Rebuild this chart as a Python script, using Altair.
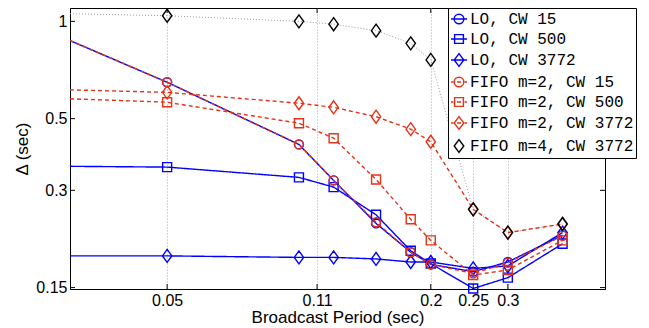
import altair as alt
import pandas as pd

# ---- data ----
X = [0.03, 0.05, 0.1, 0.12, 0.15, 0.18, 0.2, 0.25, 0.3, 0.4]
SERIES = ["LO, CW 15", "LO, CW 500", "LO, CW 3772",
          "FIFO m=2, CW 15", "FIFO m=2, CW 500", "FIFO m=2, CW 3772",
          "FIFO m=4, CW 3772"]
LO_CW15 = [0.872, 0.648, 0.416, 0.322, 0.237, 0.193, 0.177, 0.168, 0.180, 0.218]
LO_CW500 = [0.356, 0.354, 0.329, 0.307, 0.252, 0.195, 0.178, 0.149, 0.161, 0.205]
LO_CW3772 = [0.188, 0.188, 0.186, 0.186, 0.184, 0.180, 0.180, 0.172, 0.175, 0.222]
FIFO2_CW15 = [0.872, 0.648, 0.416, 0.322, 0.239, 0.193, 0.177, 0.166, 0.179, 0.217]
FIFO2_CW500 = [0.576, 0.562, 0.484, 0.435, 0.324, 0.244, 0.210, 0.164, 0.170, 0.210]
FIFO2_CW3772 = [0.614, 0.603, 0.558, 0.542, 0.507, 0.464, 0.424, 0.262, 0.222, 0.236]
FIFO4_CW3772 = [1.056, 1.041, 1.000, 0.980, 0.936, 0.855, 0.760, 0.262, 0.222, 0.236]
VALUES = [LO_CW15, LO_CW500, LO_CW3772, FIFO2_CW15, FIFO2_CW500, FIFO2_CW3772, FIFO4_CW3772]
MARKER_MIN_X = 0.05

XTICKS = [0.05, 0.11, 0.2, 0.25, 0.3]
YTICKS = [0.15, 0.3, 0.5, 1]

rows = []
for name, vals in zip(SERIES, VALUES):
    for xv, yv in zip(X, vals):
        rows.append({"x": xv, "y": yv, "series": name})
df = pd.DataFrame(rows)

# ---- styles ----
BLUE = "#0000ff"
RED = "#e5331a"
BLACK = "#000000"
W, H = 535, 281

DIAMOND = "M0,-1L0.72,0L0,1L-0.72,0Z"
STYLE = {
    "LO, CW 15": dict(color=BLUE, dash=[1, 0], shape="circle", size=80),
    "LO, CW 500": dict(color=BLUE, dash=[1, 0], shape="square", size=81),
    "LO, CW 3772": dict(color=BLUE, dash=[1, 0], shape=DIAMOND, size=169),
    "FIFO m=2, CW 15": dict(color=RED, dash=[4, 3], shape="circle", size=80),
    "FIFO m=2, CW 500": dict(color=RED, dash=[4, 3], shape="square", size=81),
    "FIFO m=2, CW 3772": dict(color=RED, dash=[4, 3], shape=DIAMOND, size=169),
    "FIFO m=4, CW 3772": dict(color=BLACK, dash=[1, 2], shape=DIAMOND, size=169),
}

CIRC = "M0.6,0A0.6,0.6,0,1,1,-0.6,0A0.6,0.6,0,1,1,0.6,0Z"
SQR = "M-0.55,-0.55H0.55V0.55H-0.55Z"
DIA = "M0,-0.8L0.6,0L0,0.8L-0.6,0Z"
SOLID = "M-1,0H1"
DASHED = "M-1,0H-0.7M-0.25,0H0.25M0.7,0H1"
LEG_PATHS = [SOLID + CIRC, SOLID + SQR, SOLID + DIA,
             DASHED + CIRC, DASHED + SQR, DASHED + DIA, DIA]
LEG_COLORS = [BLUE, BLUE, BLUE, RED, RED, RED, BLACK]

FONT = "Liberation Sans"
x_enc = alt.X("x:Q",
              scale=alt.Scale(type="log", domain=[0.03, 0.5], nice=False),
              axis=alt.Axis(values=XTICKS, format="~g", title="Broadcast Period (sec)",
                            grid=True, gridDash=[1, 2], gridColor="#a8a8a8", gridWidth=1,
                            ticks=False, labelPadding=3, titlePadding=1,
                            labelOverlap=False, labelFlush=False,
                            labelFont=FONT, labelFontSize=16, labelColor="black",
                            titleFont=FONT, titleFontSize=17, titleFontWeight="normal",
                            titleColor="black", domainColor="black"))
y_enc = alt.Y("y:Q",
              scale=alt.Scale(type="log", domain=[0.1485, 1.1], nice=False),
              axis=alt.Axis(values=YTICKS, format="~g", title="Δ (sec)",
                            grid=False, ticks=False, labelPadding=3, titlePadding=4,
                            labelOverlap=False,
                            labelFont=FONT, labelFontSize=16, labelColor="black",
                            titleFont=FONT, titleFontSize=17, titleFontWeight="normal",
                            titleColor="black", domainColor="black"))

base = alt.Chart(df).encode(x=x_enc, y=y_enc)


def line_layer(name):
    s = STYLE[name]
    width = 1 if name.startswith("FIFO m=4") else 1.4
    color = "#9a9a9a" if name.startswith("FIFO m=4") else s["color"]
    return base.transform_filter(alt.datum.series == name).mark_line(
        color=color, strokeWidth=width, strokeDash=s["dash"], clip=True)


def point_layer(name):
    s = STYLE[name]
    return base.transform_filter(
        (alt.datum.series == name) & (alt.datum.x >= MARKER_MIN_X)
    ).mark_point(shape=s["shape"], size=s["size"], filled=False, opacity=1,
                 color=s["color"], strokeWidth=1.4)


layers = [line_layer(SERIES[6])]
for n in SERIES[:3]:
    layers += [line_layer(n), point_layer(n)]
for n in SERIES[3:6]:
    layers += [line_layer(n), point_layer(n)]
layers.append(point_layer(SERIES[6]))

xt = alt.Chart(pd.DataFrame({"x": XTICKS}))
yt = alt.Chart(pd.DataFrame({"y": YTICKS}))
layers += [
    xt.mark_rule(color="black").encode(x=x_enc, y=alt.value(H - 5), y2=alt.value(H)),
    xt.mark_rule(color="black").encode(x=x_enc, y=alt.value(0), y2=alt.value(5)),
    yt.mark_rule(color="black").encode(y=y_enc, x=alt.value(0), x2=alt.value(5)),
    yt.mark_rule(color="black").encode(y=y_enc, x=alt.value(W - 5), x2=alt.value(W)),
]

leg = alt.Legend(orient="none", legendX=378, legendY=0, title=None,
                 labelFont="Liberation Mono", labelFontSize=16, labelColor="black",
                 labelLimit=400, symbolSize=256, symbolStrokeWidth=1.4,
                 padding=2, rowPadding=3, labelOffset=2,
                 strokeColor="black", fillColor="white", cornerRadius=0)
legend_layer = base.transform_filter("false").mark_point(
    filled=False, opacity=1, strokeWidth=1.4).encode(
    color=alt.Color("series:N", scale=alt.Scale(domain=SERIES, range=LEG_COLORS), legend=leg),
    shape=alt.Shape("series:N", scale=alt.Scale(domain=SERIES, range=LEG_PATHS), legend=leg),
)
layers.append(legend_layer)

chart = alt.layer(*layers).properties(
    width=W, height=H,
    autosize=alt.AutoSizeParams(type="none"),
    padding={"left": 62, "top": 0, "right": 36, "bottom": 38},
).configure_view(stroke="black", strokeWidth=1)

chart.save("out.html", embed_options={"renderer": "svg", "actions": False})
